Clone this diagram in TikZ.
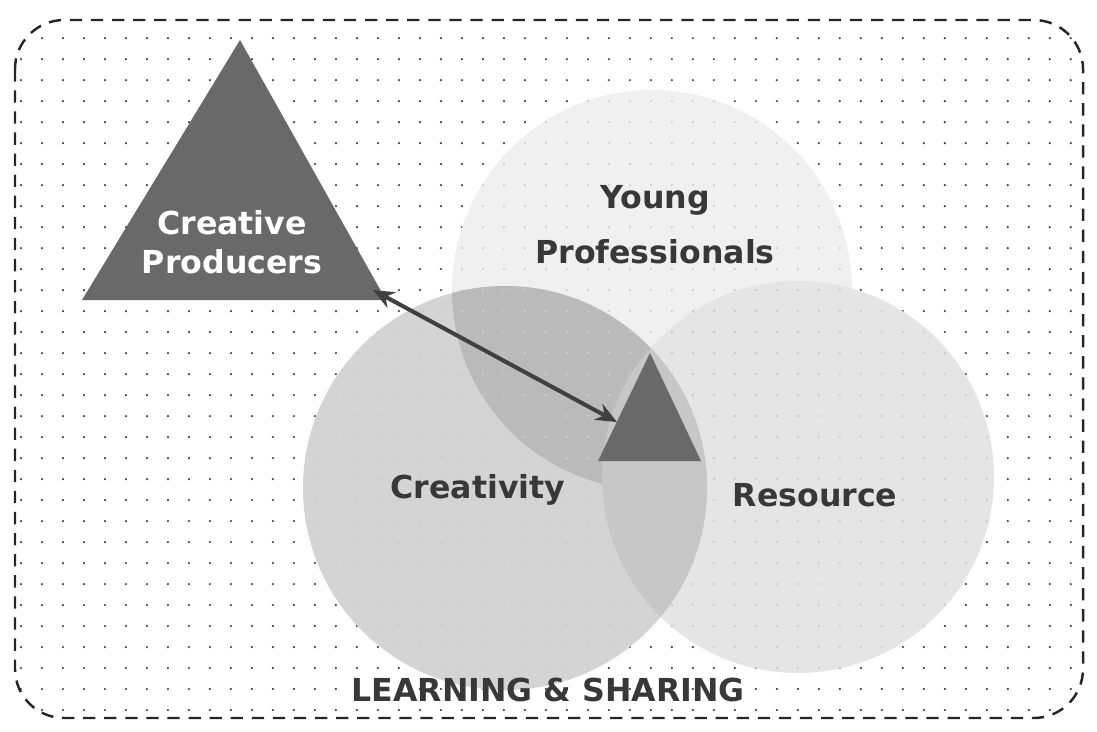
\documentclass[tikz,border=0pt]{standalone}
\usepackage{fontspec}
\setmainfont{DejaVu Sans}
\usetikzlibrary{arrows.meta,patterns.meta}
\definecolor{ink}{gray}{0.22}
\definecolor{tri}{gray}{0.41}
\definecolor{ypfill}{gray}{0.94}
\definecolor{resfill}{gray}{0.90}
\definecolor{creafill}{gray}{0.83}
\definecolor{creyp}{gray}{0.73}
\definecolor{creres}{gray}{0.78}

\begin{document}
\begin{tikzpicture}[x=0.02cm,y=0.02cm,line width=0.7pt,
  label/.style={font=\bfseries\fontsize{18}{22}\selectfont,text=ink,align=center},
  dotted bg/.style={pattern={Dots[radius=0.7pt,distance=0.42cm]}}]
  \useasboundingbox (0,0) rectangle (1097,-731);
  % dotted ground inside the dashed frame
  \fill[dotted bg,pattern color=black!75,rounded corners=28pt] (15,-20) rectangle (1083,-718);
  \draw[black!85,line width=1.4pt,dash pattern=on 7pt off 5pt,rounded corners=28pt]
    (15,-20) rectangle (1083,-718);
  % the three circles
  \fill[ypfill] (652,-290) circle[radius=200];
  \fill[resfill] (798,-477) circle[radius=196];
  \fill[creafill] (505,-488) circle[radius=202];
  \begin{scope}
    \clip (505,-488) circle[radius=202];
    \fill[creyp] (652,-290) circle[radius=200];
    \fill[creres] (798,-477) circle[radius=196];
  \end{scope}
  % faint dots on the circles
  \fill[dotted bg,pattern color=black!20] (652,-290) circle[radius=200];
  \fill[dotted bg,pattern color=black!20] (798,-477) circle[radius=196];
  \fill[dotted bg,pattern color=black!20] (505,-488) circle[radius=202];
  % triangles
  \fill[tri] (240,-40) -- (82,-300) -- (386,-300) -- cycle;
  \fill[tri] (650,-353) -- (598,-461) -- (701,-461) -- cycle;
  \coordinate (armL) at (373,-290);
  \coordinate (armR) at (617,-422);
  \draw[black!75,line width=2.3pt,{Stealth[length=12pt,width=10pt]}-{Stealth[length=12pt,width=10pt]}]
    (armL) -- (armR);
  % labels
  \node[label,text=white,font=\bfseries\fontsize{18}{22.5}\selectfont] (producers) at (232,-242) {Creative\\Producers};
  \node[label,font=\bfseries\fontsize{18}{31.5}\selectfont] (young) at (655,-225) {Young\\Professionals};
  \node[label] (creativity) at (478,-490) {Creativity};
  \node[label] (resource) at (815,-495) {Resource};
  \node[label] (sharing) at (548,-690) {LEARNING \& SHARING};
\end{tikzpicture}
\end{document}
